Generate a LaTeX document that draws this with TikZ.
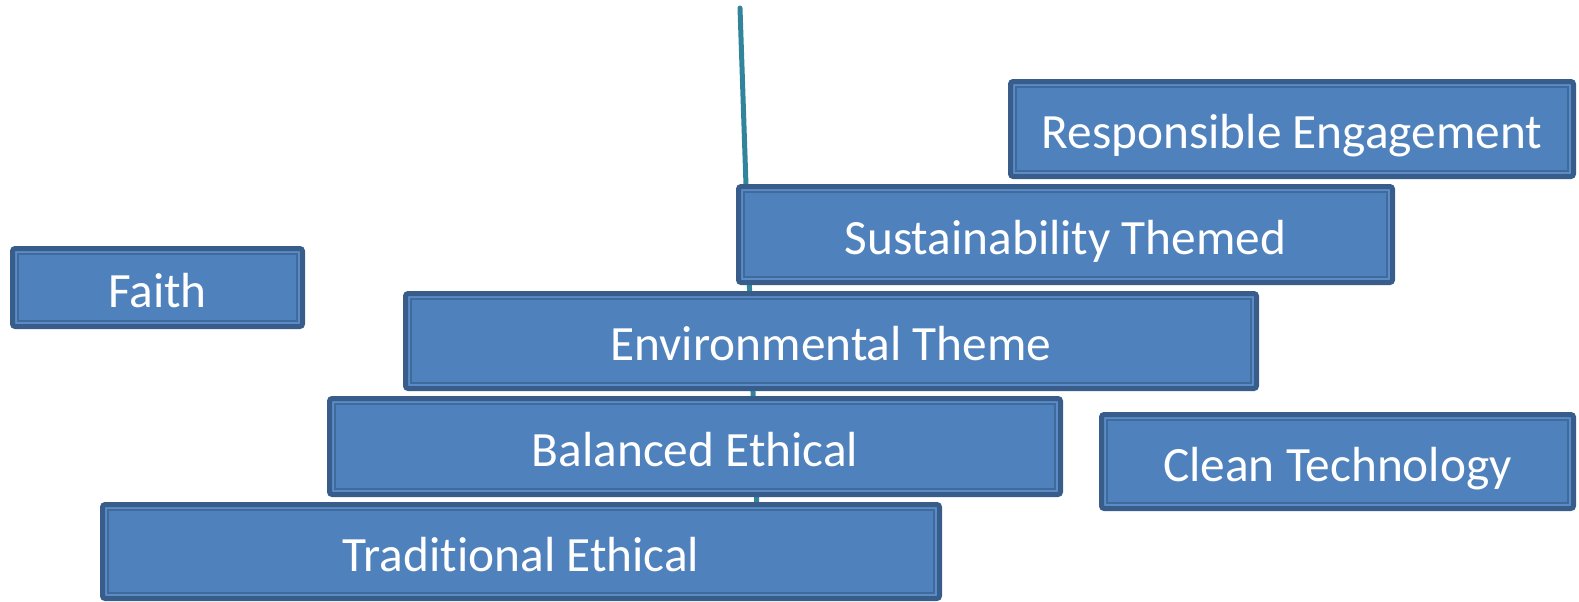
\documentclass[tikz,border=0pt]{standalone}
\usepackage{fontspec}
\setmainfont{Carlito}[Ligatures=NoCommon]
\definecolor{boxfill}{HTML}{4F81BD}
\definecolor{boxedge}{HTML}{385D8A}
\definecolor{boxlight}{HTML}{5B8CC8}
\definecolor{boxinner}{HTML}{3F6A9C}
\definecolor{stemteal}{HTML}{31849B}
\tikzset{
	tier/.style={draw=boxedge, fill=boxfill, line width=3.75pt, rounded corners=2pt,
		text=white, font=\fontsize{37}{40}\selectfont, inner sep=0pt,
		text height=30pt, text depth=0.7pt,
		path picture={
			\draw[boxlight, line width=1.2pt, sharp corners] ([shift={(2.6pt,-2.6pt)}]path picture bounding box.north west) rectangle ([shift={(-2.6pt,2.6pt)}]path picture bounding box.south east);
			\draw[boxinner, line width=1.1pt, sharp corners] ([shift={(4.1pt,-4.1pt)}]path picture bounding box.north west) rectangle ([shift={(-4.1pt,4.1pt)}]path picture bounding box.south east);
		}},
	stem/.style={stemteal, line width=3.75pt, line cap=round}
}
\begin{document}
\begin{tikzpicture}[x=0.75pt, y=-0.75pt]
			%%%%% FRAME %%%%%
			\useasboundingbox (0, 0) rectangle (1579, 601);
			
			%%%%% STEM %%%%%
			\coordinate (stemtop) at (740, 8);
			\coordinate (stembot) at (757, 510);
			\draw[stem] (stemtop) -- (stembot);
			
			%%%%% TIERS %%%%%
			\node[tier, minimum width=422.25pt, minimum height=71.25pt] (engage) at (1292, 129) {Responsible Engagement};
			\node[tier, minimum width=490.5pt, minimum height=72pt] (sustain) at (1065.5, 234.5) {Sustainability Themed};
			\node[tier, minimum width=217.5pt, minimum height=58.5pt] (faith) at (157.5, 287.5) {Faith};
			\node[tier, minimum width=638.25pt, minimum height=71.25pt] (envtheme) at (831, 341) {Environmental Theme};
			\node[tier, minimum width=548.25pt, minimum height=72pt] (balanced) at (695, 446.5) {Balanced Ethical};
			\node[tier, minimum width=354pt, minimum height=70.5pt] (cleantech) at (1337.5, 461.5) {Clean Technology};
			\node[tier, minimum width=627.75pt, minimum height=70.5pt] (tradition) at (521, 551.5) {Traditional Ethical};
			
			%%%%% END %%%%%
\end{tikzpicture}
\end{document}
